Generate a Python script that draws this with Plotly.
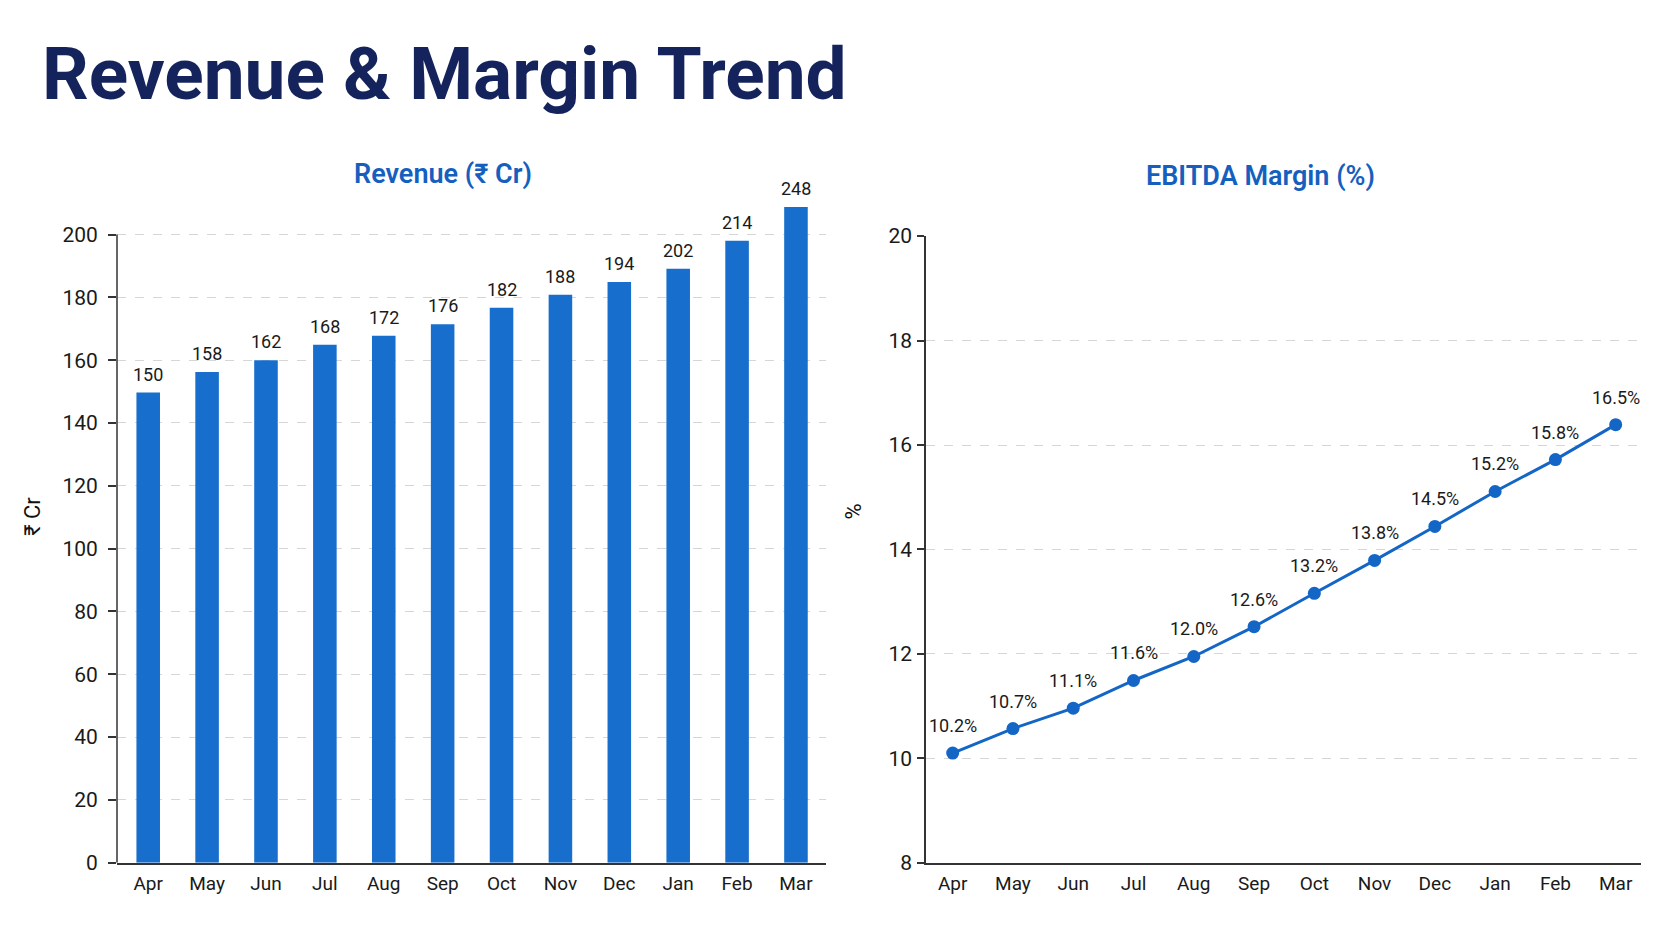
import plotly.graph_objects as go

# ---------------- data ----------------
months = ["Apr", "May", "Jun", "Jul", "Aug", "Sep", "Oct", "Nov", "Dec", "Jan", "Feb", "Mar"]
revenue_labels = [150, 158, 162, 168, 172, 176, 182, 188, 194, 202, 214, 248]
revenue_bar_heights = [149.7, 156.2, 160.0, 164.9, 167.8, 171.4, 176.7, 180.8, 184.9, 189.1, 198.0, 208.8]
margin_labels = [10.2, 10.7, 11.1, 11.6, 12.0, 12.6, 13.2, 13.8, 14.5, 15.2, 15.8, 16.5]
margin_points = [10.10, 10.57, 10.96, 11.49, 11.95, 12.52, 13.16, 13.79, 14.44, 15.11, 15.72, 16.39]
revenue_ticks = [0, 20, 40, 60, 80, 100, 120, 140, 160, 180, 200]
margin_ticks = [8, 10, 12, 14, 16, 18, 20]

W, H = 1672, 941
FONT = "Roboto, 'Liberation Sans', Arial, sans-serif"
BAR_COLOR = "#176ecc"
LINE_COLOR = "#1466c6"
TITLE_BLUE = "#1560bf"
NAVY = "#14235c"
AXIS = "#333333"
GRID = "#d6d6d6"


def px_x(p):
    return p / W


def px_y(p):
    return 1 - p / H


fig = go.Figure()

fig.add_trace(go.Bar(
    x=months, y=revenue_bar_heights, width=0.4,
    marker=dict(color=BAR_COLOR, line=dict(width=0)),
    xaxis="x", yaxis="y", showlegend=False, hoverinfo="skip",
))

fig.add_trace(go.Scatter(
    x=months, y=margin_points, mode="lines+markers",
    line=dict(color=LINE_COLOR, width=3),
    marker=dict(color=LINE_COLOR, size=13),
    xaxis="x2", yaxis="y2", showlegend=False, hoverinfo="skip",
))

annotations = []
for m, h, lab in zip(months, revenue_bar_heights, revenue_labels):
    annotations.append(dict(
        x=m, y=h, xref="x", yref="y", text=str(lab), showarrow=False,
        yanchor="bottom", yshift=6, font=dict(size=18, color="#1a1a1a", family=FONT),
    ))
for m, v, lab in zip(months, margin_points, margin_labels):
    annotations.append(dict(
        x=m, y=v, xref="x2", yref="y2", text=f"{lab:.1f}%", showarrow=False,
        yanchor="bottom", yshift=15, font=dict(size=18, color="#1a1a1a", family=FONT),
    ))

annotations += [
    dict(x=px_x(40), y=px_y(64), xref="paper", yref="paper", xanchor="left", yanchor="middle",
         text="Revenue & Margin Trend", showarrow=False,
         font=dict(size=73, color=NAVY, family=FONT, weight="bold")),
    dict(x=px_x(442.6), y=px_y(166), xref="paper", yref="paper", xanchor="center", yanchor="middle",
         text="Revenue (₹ Cr)", showarrow=False,
         font=dict(size=27, color=TITLE_BLUE, family=FONT, weight=600)),
    dict(x=px_x(1260), y=px_y(168.4), xref="paper", yref="paper", xanchor="center", yanchor="middle",
         text="EBITDA Margin (%)", showarrow=False,
         font=dict(size=27, color=TITLE_BLUE, family=FONT, weight=600)),
    dict(x=px_x(33), y=px_y(518), xref="paper", yref="paper", xanchor="center", yanchor="middle",
         text="₹ Cr", textangle=-90, showarrow=False,
         font=dict(size=22, color="#111111", family=FONT)),
    dict(x=px_x(853), y=px_y(512.5), xref="paper", yref="paper", xanchor="center", yanchor="middle",
         text="%", textangle=-90, showarrow=False,
         font=dict(size=22, color="#111111", family=FONT)),
]

common_x = dict(
    type="category", showgrid=False, zeroline=False, showline=True,
    linecolor=AXIS, linewidth=1.5, ticks="", ticklabelstandoff=3,
    tickfont=dict(size=19, color="#1a1a1a", family=FONT), fixedrange=True,
)
common_y = dict(
    showgrid=True, gridcolor=GRID, griddash="dash", gridwidth=1.2, zeroline=False,
    ticks="outside", ticklen=8, tickcolor=AXIS, tickwidth=1.5,
    tickfont=dict(size=21, color="#1a1a1a", family=FONT), fixedrange=True,
)

fig.update_layout(
    width=W, height=H, autosize=False,
    margin=dict(l=0, r=0, t=0, b=0),
    paper_bgcolor="white", plot_bgcolor="white",
    font=dict(family=FONT),
    xaxis=dict(common_x, domain=[px_x(117), px_x(826)], range=[-0.53, 11.51], anchor="y"),
    yaxis=dict(common_y, domain=[px_y(873), px_y(180)], range=[0, 215],
               tickvals=revenue_ticks, showline=False, ticklabelstandoff=6, anchor="x"),
    xaxis2=dict(common_x, domain=[px_x(926), px_x(1640.7)], range=[-0.443, 11.415], anchor="y2"),
    yaxis2=dict(common_y, domain=[px_y(873), px_y(230)], range=[8, 20],
                tickvals=margin_ticks, showline=True, linecolor=AXIS, linewidth=1.5,
                ticklen=7, ticklabelstandoff=1, anchor="x2"),
    annotations=annotations,
    shapes=[dict(type="line", xref="x domain", yref="y", x0=0, x1=0, y0=0, y1=200,
                 line=dict(color=AXIS, width=1.5), layer="above")],
)

fig.write_html("out.html")
